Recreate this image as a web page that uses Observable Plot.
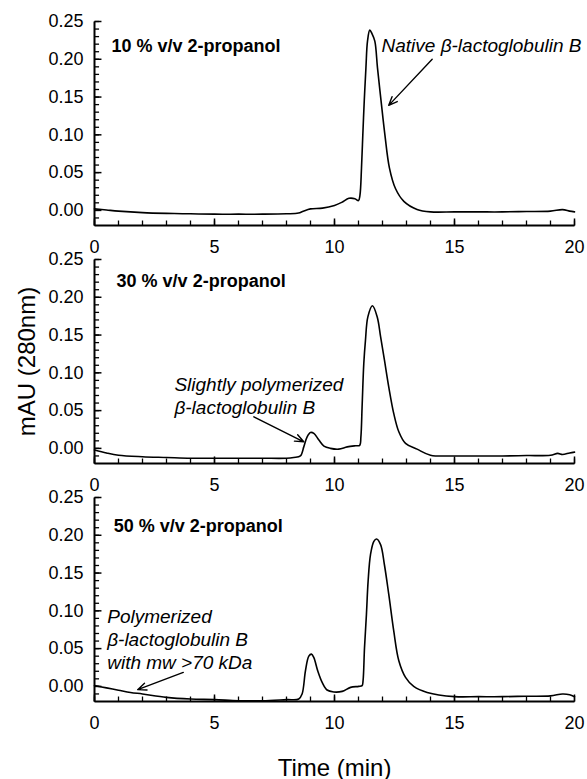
<!DOCTYPE html>
<html>
<head>
<meta charset="utf-8">
<script src="https://cdn.jsdelivr.net/npm/d3@7"></script>
<script src="https://cdn.jsdelivr.net/npm/@observablehq/plot@0.6"></script>
<style>
  body { margin: 0; background: #fff; }
  #chart { width: 587px; }
  #chart svg { display: block; }
</style>
</head>
<body>
<div id="chart"></div>
<script>
// ---- Data ----
const panelLabels = ["10 % v/v 2-propanol", "30 % v/v 2-propanol", "50 % v/v 2-propanol"];

const time10 = [0, 0.5, 1, 2, 3, 4, 5, 6, 7, 8, 8.5, 8.7, 9, 9.5, 10, 10.3, 10.6, 10.85, 11.0, 11.06, 11.125, 11.18, 11.24, 11.31, 11.375, 11.47, 11.56, 11.68, 11.79, 11.94, 12.1, 12.29, 12.54, 12.89, 13.44, 14, 15, 16, 17, 18, 19, 19.5, 19.8, 20];
const mau10  = [0.002, 0.0005, -0.001, -0.003, -0.004, -0.0045, -0.005, -0.005, -0.005, -0.0045, -0.0035, -0.001, 0.002, 0.003, 0.0066, 0.0106, 0.016, 0.0155, 0.013, 0.02, 0.056, 0.100, 0.145, 0.189, 0.224, 0.2386, 0.234, 0.224, 0.189, 0.145, 0.100, 0.056, 0.029, 0.012, 0.0013, -0.002, -0.002, -0.002, -0.002, -0.0015, -0.001, 0.001, -0.001, -0.002];

const time30 = [0, 0.5, 1, 2, 3, 4, 5, 6, 7, 8, 8.3, 8.58, 8.72, 8.86, 9.0, 9.14, 9.35, 9.56, 9.83, 10.18, 10.53, 10.88, 11.05, 11.1, 11.15, 11.22, 11.29, 11.39, 11.58, 11.78, 11.92, 12.08, 12.26, 12.47, 12.68, 12.96, 13.44, 14, 15, 16, 17, 18, 19, 19.3, 19.5, 19.8, 20];
const mau30  = [-0.002, -0.006, -0.009, -0.011, -0.012, -0.013, -0.013, -0.013, -0.013, -0.013, -0.012, -0.010, 0.002, 0.0153, 0.021, 0.0198, 0.011, 0.003, 0.0, -0.001, 0.002, 0.0035, 0.004, 0.0153, 0.055, 0.112, 0.143, 0.174, 0.1887, 0.174, 0.148, 0.117, 0.0815, 0.046, 0.022, 0.0066, -0.001, -0.009, -0.010, -0.010, -0.010, -0.0095, -0.009, -0.0066, -0.008, -0.006, -0.005];

const time50 = [0, 0.5, 1, 1.5, 2, 3, 4, 5, 6, 7, 8, 8.51, 8.65, 8.79, 8.93, 9.04, 9.14, 9.3, 9.49, 9.69, 9.97, 10.32, 10.67, 11.01, 11.15, 11.19, 11.25, 11.33, 11.4, 11.5, 11.64, 11.75, 11.92, 12.08, 12.26, 12.47, 12.68, 12.96, 13.3, 13.86, 15, 16, 17, 18, 19, 19.5, 19.8, 20];
const mau50  = [0.001, -0.002, -0.005, -0.008, -0.010, -0.0145, -0.0167, -0.0175, -0.019, -0.019, -0.0175, -0.0167, -0.010, 0.0207, 0.040, 0.0427, 0.038, 0.0207, 0.005, -0.0048, -0.0074, -0.0066, -0.0013, 0.0, 0.001, 0.0075, 0.051, 0.095, 0.139, 0.1745, 0.192, 0.195, 0.1877, 0.161, 0.122, 0.073, 0.034, 0.012, 0.0, -0.008, -0.0136, -0.0136, -0.0136, -0.013, -0.0125, -0.010, -0.011, -0.0136];

const xTickValues = [0, 5, 10, 15, 20];
const yTickValues = [0, 0.05, 0.10, 0.15, 0.20, 0.25];
const yAxisTitle = "mAU (280nm)";
const xAxisTitle = "Time (min)";

// annotation texts and anchors (time, mAU)
const titleTime = [0.71, 0.92, 0.80];
const titleMau  = [0.210, 0.214, 0.205];
const noteTexts = ["Native β-lactoglobulin B", "Slightly polymerized\nβ-lactoglobulin B", "Polymerized\nβ-lactoglobulin B\nwith mw >70 kDa"];
const noteTime  = [11.96, 3.33, 0.53];
const noteMau   = [0.210, 0.0454, 0.0233];
const arrowFromTime = [14.07, 6.64, 3.70];
const arrowFromMau  = [0.200, 0.0418, 0.0185];
const arrowToTime   = [12.26, 8.72, 1.80];
const arrowToMau    = [0.139, 0.0087, -0.0043];

// ---- Drawing (one faceted plot, one panel per 2-propanol level) ----
const panels = [0, 1, 2];
const xDomain = [0, 20];
const yDomain = [-0.02, 0.25];
const seriesTimes = [time10, time30, time50];
const seriesMau = [mau10, mau30, mau50];
const curves = panels.flatMap(i => seriesTimes[i].map((t, j) => ({panel: i, t, v: seriesMau[i][j]})));
const titles = panels.map(i => ({panel: i, t: titleTime[i], v: titleMau[i], s: panelLabels[i]}));
const notes = panels.map(i => ({panel: i, t: noteTime[i], v: noteMau[i], s: noteTexts[i]}));
const arrows = panels.map(i => ({panel: i, x1: arrowFromTime[i], y1: arrowFromMau[i], x2: arrowToTime[i], y2: arrowToMau[i]}));
const xMinor = d3.range(0, 21, 1);
const yMinor = d3.range(-1, 26, 1).map(d => d / 100);
const font = "'Liberation Sans', Arial, Helvetica, sans-serif";
const x0 = xDomain[0], yBase = yDomain[0];
// inward tick lengths in data units (~7px major, ~5px minor)
const yTickLen = 0.29, yMinorLen = 0.19, xTickLen = 0.0093, xMinorLen = 0.0066;

const svg = Plot.plot({
  width: 587,
  height: 779,
  marginLeft: 94,
  marginRight: 13,
  marginTop: 21,
  marginBottom: 78,
  x: {domain: xDomain},
  y: {domain: yDomain},
  fy: {domain: panels, axis: null, paddingInner: 1 / 7, paddingOuter: 0},
  style: {fontFamily: font, fontSize: "18px", background: "white", color: "#000"},
  marks: [
    // axis lines
    Plot.link([yDomain], {x1: x0, x2: x0, y1: d => d[0], y2: d => d[1], stroke: "#000", strokeWidth: 2}),
    Plot.link([xDomain], {x1: d => d[0], x2: d => d[1], y1: yBase, y2: yBase, stroke: "#000", strokeWidth: 2}),
    // inward ticks
    Plot.link(yMinor, {x1: x0, x2: x0 + yMinorLen, y1: d => d, y2: d => d, stroke: "#000", strokeWidth: 1.3}),
    Plot.link(yTickValues, {x1: x0, x2: x0 + yTickLen, y1: d => d, y2: d => d, stroke: "#000", strokeWidth: 1.5}),
    Plot.link(xMinor, {x1: d => d, x2: d => d, y1: yBase, y2: yBase + xMinorLen, stroke: "#000", strokeWidth: 1.3}),
    Plot.link(xTickValues, {x1: d => d, x2: d => d, y1: yBase, y2: yBase + xTickLen, stroke: "#000", strokeWidth: 1.5}),
    // tick labels
    Plot.axisY(yTickValues, {tickSize: 0, tickPadding: 11, tickFormat: d3.format(".2f"), label: null, fontSize: 18, fill: "#000"}),
    Plot.axisX(xTickValues, {tickSize: 0, tickPadding: 15, label: null, fontSize: 18, fill: "#000", facetAnchor: null}),
    // chromatograms
    Plot.line(curves, {x: "t", y: "v", fy: "panel", curve: "catmull-rom", stroke: "#000", strokeWidth: 1.6}),
    // annotations
    Plot.text(titles, {x: "t", y: "v", fy: "panel", text: "s", textAnchor: "start", lineAnchor: "bottom", fontSize: 18, fontWeight: "bold", fill: "#000"}),
    Plot.text(notes, {x: "t", y: "v", fy: "panel", text: "s", textAnchor: "start", lineAnchor: "bottom", lineHeight: 1.21, fontSize: 19, fontStyle: "italic", fill: "#000"}),
    Plot.arrow(arrows, {x1: "x1", y1: "y1", x2: "x2", y2: "y2", fy: "panel", headLength: 10, headAngle: 45, stroke: "#000", strokeWidth: 1.4}),
    Plot.text([{panel: 1, s: yAxisTitle}], {fy: "panel", text: "s", frameAnchor: "left", rotate: -90, dx: -77, lineAnchor: "top", textAnchor: "middle", fontSize: 24, fill: "#000"}),
    Plot.text([{panel: 2, s: xAxisTitle}], {fy: "panel", text: "s", frameAnchor: "bottom", dy: 74, lineAnchor: "bottom", textAnchor: "middle", fontSize: 24, fill: "#000"})
  ]
});
document.getElementById("chart").appendChild(svg);
</script>
</body>
</html>
